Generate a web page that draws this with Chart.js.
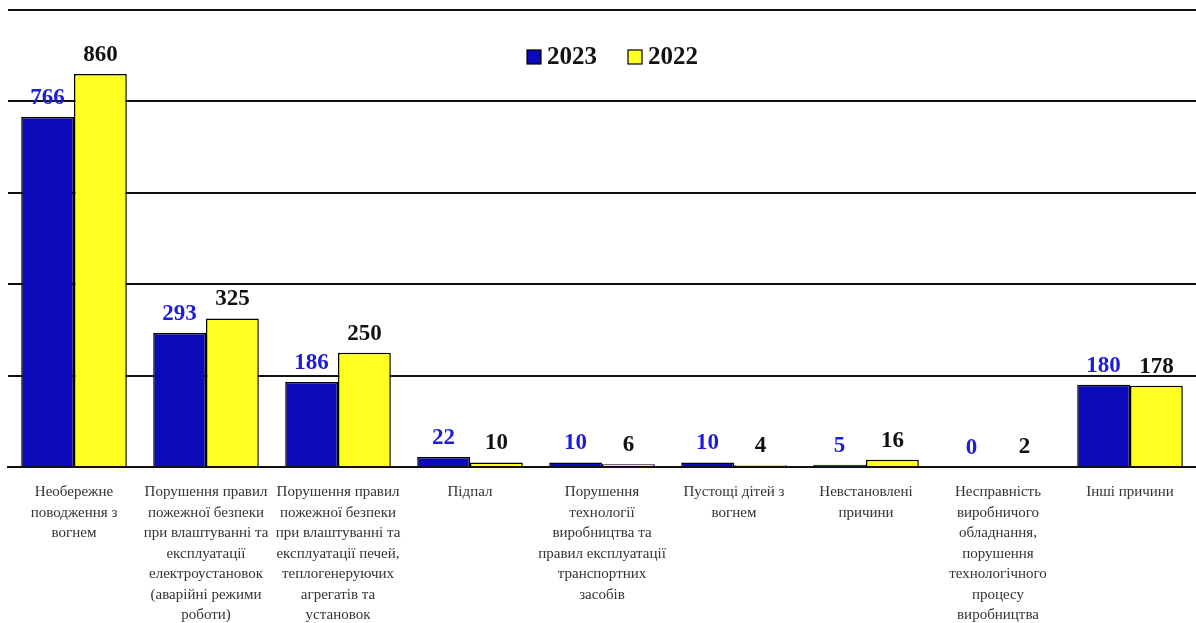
<!DOCTYPE html>
<html>
<head>
<meta charset="utf-8">
<script src="https://cdn.jsdelivr.net/npm/chart.js@4/dist/chart.umd.min.js"></script>
<style>
  html, body { margin: 0; padding: 0; background: #fff; }
  #wrap { width: 1196px; height: 623px; }
</style>
</head>
<body>
<div id="wrap"><canvas id="chart"></canvas></div>
<script>
const categories = [
  ['Необережне', 'поводження з', 'вогнем'],
  ['Порушення правил', 'пожежної безпеки', 'при влаштуванні та', 'експлуатації', 'електроустановок', '(аварійні режими', 'роботи)'],
  ['Порушення правил', 'пожежної безпеки', 'при влаштуванні та', 'експлуатації печей,', 'теплогенеруючих', 'агрегатів та', 'установок'],
  ['Підпал'],
  ['Порушення', 'технології', 'виробництва та', 'правил експлуатації', 'транспортних', 'засобів'],
  ['Пустощі дітей з', 'вогнем'],
  ['Невстановлені', 'причини'],
  ['Несправність', 'виробничого', 'обладнання,', 'порушення', 'технологічного', 'процесу', 'виробництва'],
  ['Інші причини']
];
const values2023 = [766, 293, 186, 22, 10, 10, 5, 0, 180];
const values2022 = [860, 325, 250, 10, 6, 4, 16, 2, 178];
const seriesNames = ['2023', '2022'];

const serif = '"Liberation Serif", "Times New Roman", serif';

// if no real bold face is around, thicken text with a thin stroke
function boldText(ctx, txt, x, y) {
  ctx.fillText(txt, x, y);
  if (ctx._fakeBold) {
    ctx.strokeStyle = ctx.fillStyle;
    ctx.lineWidth = 0.9;
    ctx.strokeText(txt, x, y);
  }
}
function checkBold(ctx) {
  ctx.save();
  ctx.font = '40px ' + serif;
  const a = ctx.measureText('WWWWW').width;
  ctx.font = 'bold 40px ' + serif;
  const b = ctx.measureText('WWWWW').width;
  ctx.restore();
  return Math.abs(a - b) < 1;
}

const valueLabels = {
  id: 'valueLabels',
  afterDatasetsDraw(chart) {
    const ctx = chart.ctx;
    ctx.save();
    ctx._fakeBold = checkBold(ctx);
    ctx.font = 'bold 23px ' + serif;
    ctx.textAlign = 'center';
    ctx.textBaseline = 'middle';
    chart.data.datasets.forEach((ds, i) => {
      ctx.fillStyle = i === 0 ? '#1c1cdc' : '#111';
      chart.getDatasetMeta(i).data.forEach((bar, j) => {
        boldText(ctx, String(ds.data[j]), bar.x, bar.y - 19);
      });
    });
    ctx.restore();
  }
};

const innerLegend = {
  id: 'innerLegend',
  afterDraw(chart) {
    const ctx = chart.ctx;
    ctx.save();
    ctx._fakeBold = checkBold(ctx);
    ctx.font = 'bold 25px ' + serif;
    ctx.textBaseline = 'middle';
    const y = 57;
    const xs = [527, 628];
    chart.data.datasets.forEach((ds, i) => {
      const x = xs[i];
      ctx.fillStyle = ds.backgroundColor;
      ctx.fillRect(x, y - 7, 14, 14);
      ctx.strokeStyle = '#000';
      ctx.lineWidth = 1.2;
      ctx.strokeRect(x, y - 7, 14, 14);
      ctx.fillStyle = '#111';
      boldText(ctx, ds.label, x + 20, y + 1);
    });
    ctx.restore();
  }
};

new Chart(document.getElementById('chart'), {
  type: 'bar',
  data: {
    labels: categories,
    datasets: [
      { label: seriesNames[0], data: values2023, backgroundColor: '#0a0ab8', borderColor: '#000', borderWidth: 1.5 },
      { label: seriesNames[1], data: values2022, backgroundColor: '#ffff22', borderColor: '#000', borderWidth: 1.5 }
    ]
  },
  options: {
    responsive: true,
    maintainAspectRatio: false,
    animation: false,
    layout: { padding: { top: 10, left: 8, right: 0, bottom: 0 } },
    datasets: { bar: { categoryPercentage: 0.8, barPercentage: 1.0 } },
    plugins: { legend: { display: false }, tooltip: { enabled: false } },
    scales: {
      x: {
        grid: { display: false },
        border: { display: true, color: '#111', width: 2 },
        ticks: {
          color: '#333',
          font: { family: serif, size: 15, lineHeight: 1.365 },
          padding: 7,
          maxRotation: 0,
          autoSkip: false
        },
        afterFit(scale) { scale.height = 156; }
      },
      y: {
        min: 0,
        max: 1000,
        ticks: { display: false, stepSize: 200 },
        grid: { color: '#111', lineWidth: 2, drawTicks: false },
        border: { display: false }
      }
    }
  },
  plugins: [valueLabels, innerLegend]
});
</script>
</body>
</html>
